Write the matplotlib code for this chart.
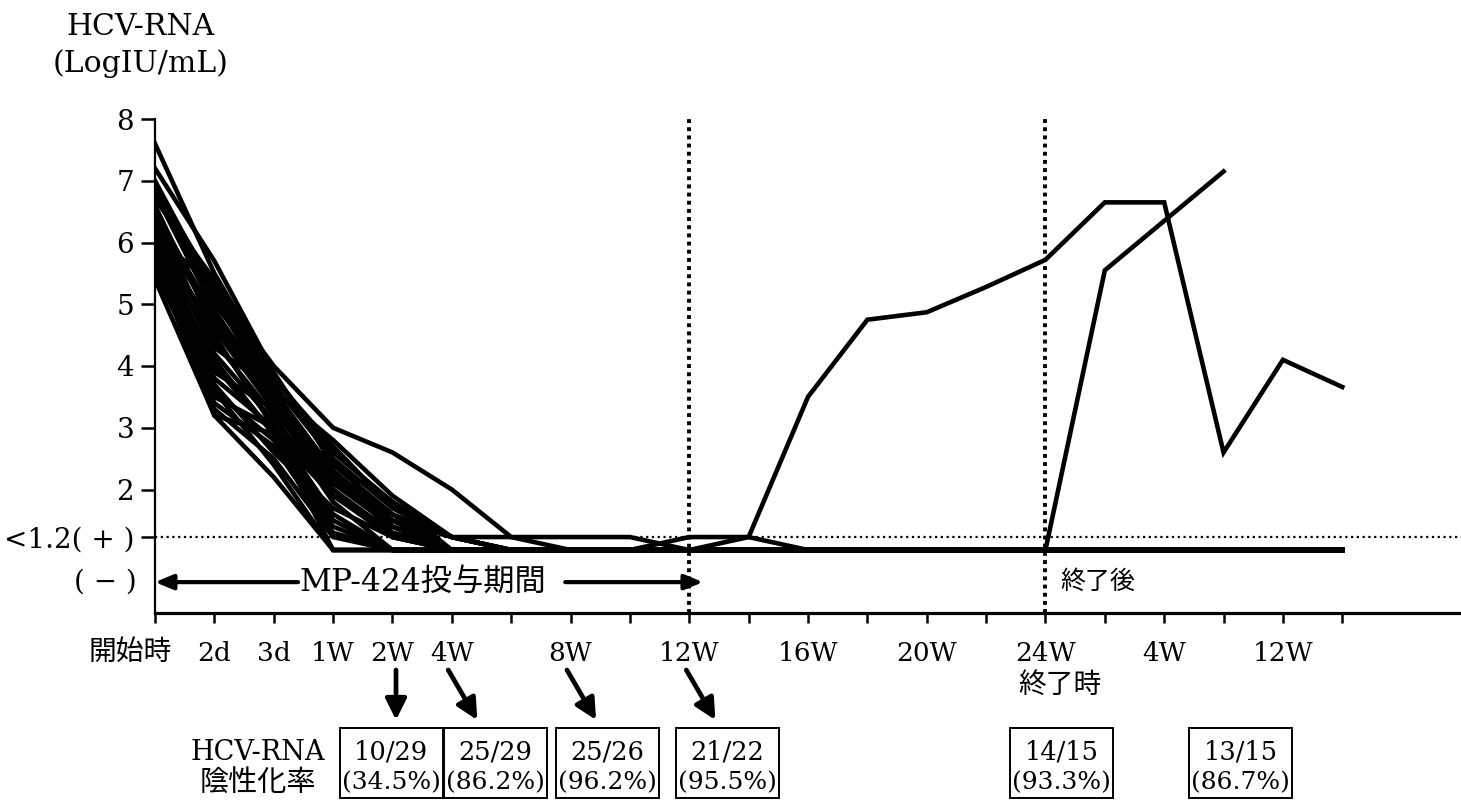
import matplotlib
matplotlib.use('Agg')
import matplotlib.pyplot as plt
import matplotlib.transforms as mtransforms
from matplotlib.patches import Rectangle

plt.rcParams['font.family'] = ['DejaVu Serif', 'Noto Sans CJK JP']

# ---- data -------------------------------------------------------------
NEG = 1.02   # "(-)" level, below detection
POS = 1.23   # "<1.2(+)" level, detected but not quantifiable

x_labels = ['', '2d', '3d', '1W', '2W', '4W', '', '8W', '', '12W', '',
            '16W', '', '20W', '', '24W', '', '4W', '', '12W', '']
y_ticks = [POS, 2, 3, 4, 5, 6, 7, 8]
y_labels = ['<1.2( + )', '2', '3', '4', '5', '6', '7', '8']

# early course of each patient (start, 2d, 3d, 1W, 2W, 4W, ...), then NEG until last index
early = [
    [7.6, 5.5, 3.85, 2.6, 1.8, NEG],
    [7.2, 5.7, 3.9, 2.4, 1.6, POS, NEG],
    [7.0, 5.2, 3.6, 2.3, 1.5, NEG],
    [6.9, 5.0, 3.8, 2.7, 1.7, POS, NEG],
    [6.8, 4.9, 3.5, 2.2, 1.4, NEG],
    [6.7, 5.4, 3.7, 2.5, 1.7, POS, POS, NEG],
    [6.6, 4.6, 3.3, 2.0, 1.3, NEG],
    [6.5, 4.8, 3.4, 2.3, 1.5, POS, NEG],
    [6.3, 4.4, 3.2, 1.8, NEG],
    [6.2, 4.5, 3.0, 1.6, NEG],
    [6.2, 4.2, 3.1, 2.1, 1.4, NEG],
    [6.1, 4.0, 2.9, 1.5, NEG, NEG, NEG, NEG, NEG, NEG, POS, NEG],
    [6.0, 3.9, 3.3, 2.4, 1.8, POS, NEG],
    [6.0, 3.6, 2.8, 1.4, NEG],
    [5.9, 3.8, 3.0, 1.9, POS, NEG],
    [5.8, 3.4, 2.7, 1.3, NEG],
    [5.8, 3.5, 3.0, 2.0, POS, NEG],
    [5.7, 3.2, 2.9, NEG],
    [5.7, 3.3, 2.5, POS, NEG],
    [5.6, 3.7, 2.6, 1.7, POS, NEG],
    [5.5, 3.6, 2.4, NEG],
    [5.4, 3.2, 2.2, NEG],
    [6.8, 5.1, 3.5, 2.3, 1.3, NEG],
    [6.5, 4.3, 3.6, 2.8, 1.9, POS, NEG],
    [6.1, 4.6, 3.4, 2.2, 1.6, NEG],
    [5.9, 4.1, 2.9, 1.9, 1.3, NEG],
]
last = [20, 15, 20, 9, 15, 20, 7, 15, 20, 9, 15, 20, 7, 15, 20,
        9, 15, 20, 15, 20, 7, 15, 20, 20, 15, 20]

# breakthrough / relapse / slow responders
pt_break = [6.4, 4.7, 3.4, 2.1, 1.5, NEG, NEG, NEG, NEG, POS, POS,
            3.5, 4.75, 4.87, 5.28, 5.72, 6.65, 6.65, 2.6, 4.1, 3.66]
pt_relapse = [6.9, 5.3, 3.7, 2.5, 1.4, NEG, NEG, NEG, NEG, NEG, NEG,
              NEG, NEG, NEG, NEG, NEG, 5.55, 6.35, 7.15]
pt_slow = [6.1, 5.3, 4.0, 3.0, 2.6, 2.0, POS, POS, POS, NEG, NEG,
           NEG, NEG, NEG, NEG, NEG, NEG, NEG, NEG, NEG, NEG]

# negative-conversion rate boxes
rate_x = [3.98, 5.74, 7.62, 9.64, 15.27, 18.29]
rate_frac = ['10/29', '25/29', '25/26', '21/22', '14/15', '13/15']
rate_pct = ['(34.5%)', '(86.2%)', '(96.2%)', '(95.5%)', '(93.3%)', '(86.7%)']

# ---- figure -----------------------------------------------------------
W, H = 1461, 800
fig = plt.figure(figsize=(W / 100, H / 100), dpi=100)
ax = fig.add_axes([155 / W, 1 - 613 / H, (W - 155) / W, (613 - 119) / H])
blend = mtransforms.blended_transform_factory(ax.transData, fig.transFigure)

def fy(py):
    return 1 - py / H

series = []
for vals, end in zip(early, last):
    series.append(vals + [NEG] * (end + 1 - len(vals)))
series += [pt_slow, pt_break, pt_relapse]

for s in series:
    ax.plot(range(len(s)), s, color='black', lw=3.3, solid_joinstyle='miter')

ax.axhline(POS, color='black', lw=1.6, ls=(0, (1, 1.6)))
for xv in (9, 15):
    ax.plot([xv, xv], [0, 8], color='black', lw=2.8, ls=(0, (1, 1.1)))

ax.set_xlim(0, 22)
ax.set_ylim(0, 8)
ax.spines['top'].set_visible(False)
ax.spines['right'].set_visible(False)
ax.spines['left'].set_linewidth(1.6)
ax.spines['bottom'].set_linewidth(2.3)

ax.set_xticks(range(len(x_labels)))
ax.set_xticklabels(x_labels, fontsize=19)
ax.set_yticks(y_ticks)
ax.set_yticklabels(y_labels, fontsize=20)
ax.tick_params(axis='x', length=7, width=1.8, pad=13)
ax.tick_params(axis='y', length=10, width=1.8, pad=5)

ax.text(-0.42, fy(652), '開始時', transform=blend, ha='center', va='center', fontsize=20)
ax.text(15.25, fy(685), '終了時', transform=blend, ha='center', va='center', fontsize=20)
ax.text(-0.3, 0.5, '( − )', ha='right', va='center', fontsize=20)

# y axis title
fig.text(141 / W, fy(27), 'HCV-RNA', ha='center', va='center', fontsize=21.5)
fig.text(141 / W, fy(64), '(LogIU/mL)', ha='center', va='center', fontsize=21.5)

# treatment period
arrow = dict(arrowstyle='-|>,head_length=0.6,head_width=0.25', color='black',
             lw=3, mutation_scale=18, shrinkA=0, shrinkB=0)
ax.annotate('', xy=(0, 0.5), xytext=(2.41, 0.5), arrowprops=arrow)
ax.annotate('', xy=(9.23, 0.5), xytext=(6.91, 0.5), arrowprops=arrow)
ax.text(4.51, 0.5, 'MP-424投与期間', ha='center', va='center', fontsize=22.5)
ax.text(15.25, 0.5, '終了後', ha='left', va='center', fontsize=18)

# arrows to the rate boxes
down = dict(arrowstyle='-|>,head_length=0.7,head_width=0.35', color='black',
            lw=3.4, mutation_scale=18, shrinkA=0, shrinkB=0)
for x0, x1 in [(4.06, 4.06), (4.94, 5.43), (6.94, 7.43), (8.95, 9.44)]:
    ax.annotate('', xy=(x1, fy(720)), xytext=(x0, fy(670)),
                xycoords=blend, textcoords=blend, arrowprops=down,
                annotation_clip=False)

# rate boxes
fig.text(258 / W, fy(752), 'HCV-RNA', ha='center', va='center', fontsize=19.5)
fig.text(258 / W, fy(783), '陰性化率', ha='center', va='center', fontsize=21)
bw = 103 / 59.36
for cx, fr, pc in zip(rate_x, rate_frac, rate_pct):
    fig.add_artist(Rectangle((cx - bw / 2, fy(798)), bw, 70 / H, transform=blend,
                             fill=False, lw=1.4, ec='black'))
    ax.text(cx, fy(752), fr, transform=blend, ha='center', va='center', fontsize=18.5)
    ax.text(cx, fy(783), pc, transform=blend, ha='center', va='center', fontsize=18)

fig.savefig('out.png', dpi=100, facecolor='white')
